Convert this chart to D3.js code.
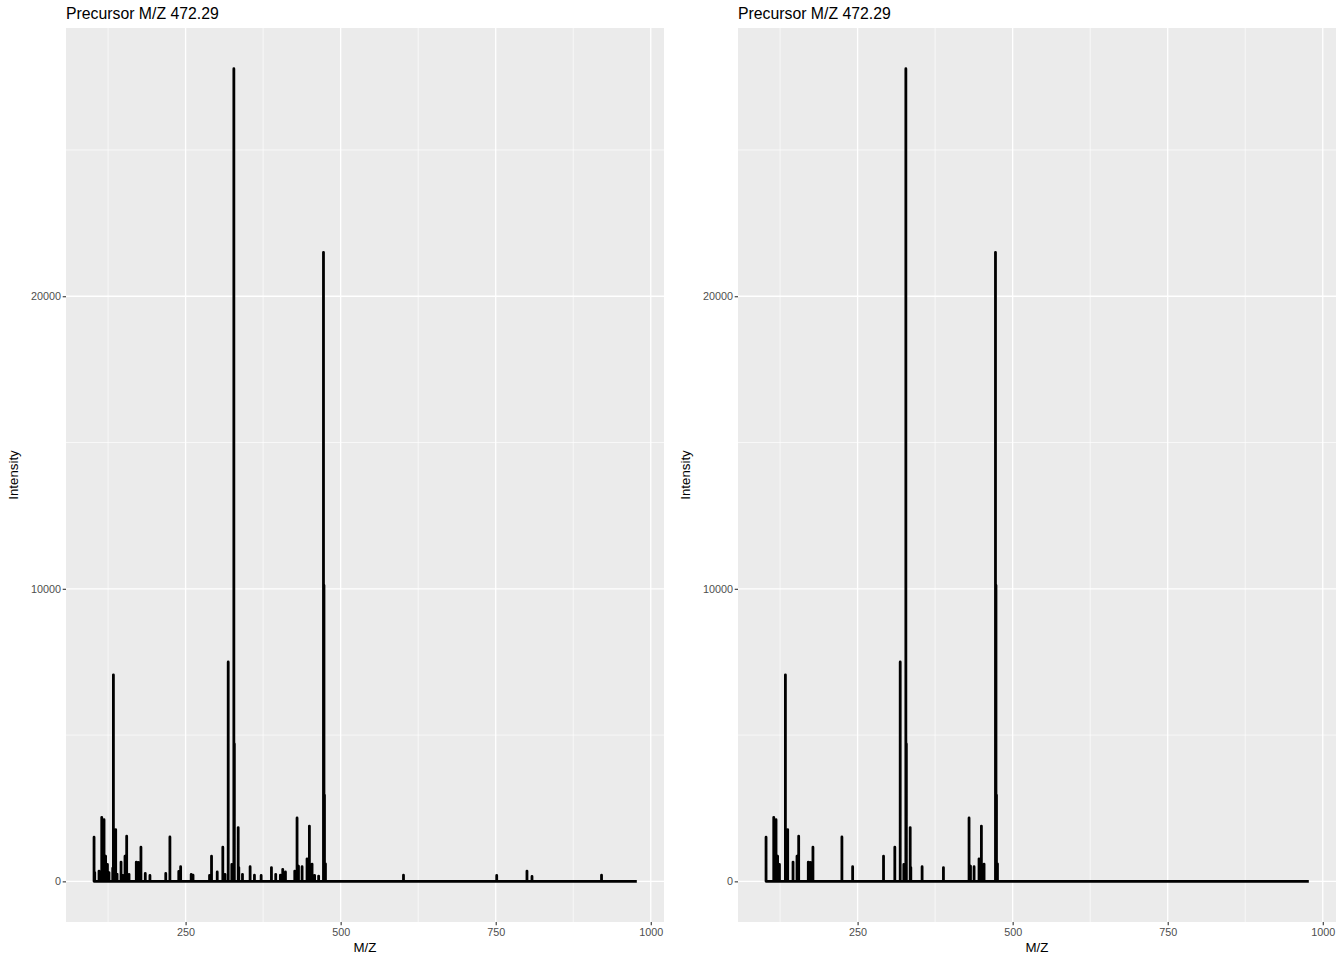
<!DOCTYPE html>
<html lang="en">

<head>
    <meta charset="UTF-8">
    <script src="https://cdnjs.cloudflare.com/ajax/libs/d3/7.6.1/d3.min.js"></script>
    <title>Precursor spectrum</title>
    <style>
        body { margin: 0; background: #fff; }
        text { font-family: "Liberation Sans", Arial, Helvetica, sans-serif; }
    </style>
</head>

<body>
    <div id="container"></div>

    <script>
        /*------------------- data --------------------*/
        const precursor = "472.29"
        const mzStart = 101
        const mzEnd = 977.5

        // all peaks (left panel)
        const rawMz = [102.4, 103.5, 110.4, 114.8, 116.5, 118.5, 121, 124, 126.5, 132.5, 133.6, 137.3, 139.5,
            145.9, 149, 152.3, 155, 158.8, 170.5, 173.8, 178, 185, 192.5, 218, 224.7, 239, 242, 259, 262,
            288.6, 291.8, 301, 310, 313.5, 318.7, 324.5, 326, 327.8, 328.6, 334.8, 335.8, 341.7, 354, 361,
            371.8, 388.4, 395.3, 402.8, 406.6, 411, 426, 429.7, 432, 437.8, 445.8, 449.6, 453.9, 458, 464.5,
            472.3, 473.1, 473.9, 475.5, 601.3, 751.6, 800.4, 808.5, 920.6]
        const rawIntensity = [1510, 300, 350, 2190, 1100, 2110, 860, 580, 300, 450, 7060, 1770, 250,
            660, 200, 860, 1545, 240, 660, 650, 1170, 270, 200, 270, 1520, 340, 500, 240, 210,
            200, 860, 320, 1170, 240, 7500, 580, 300, 27780, 4700, 1840, 470, 240, 500, 210,
            200, 470, 240, 210, 410, 320, 350, 2170, 520, 500, 770, 1890, 590, 200, 180,
            21500, 10120, 2950, 600, 210, 200, 350, 170, 210]

        // peaks kept after filtering (right panel)
        const keptMz = [102.4, 114.8, 118.5, 121, 124, 133.6, 137.3, 145.9, 152.3, 155, 170.5, 173.8, 178,
            224.7, 242, 291.8, 310, 318.7, 324.5, 327.8, 328.6, 334.8, 335.8, 354, 388.4, 429.7, 432, 437.8,
            445.8, 449.6, 453.9, 472.3, 473.1, 473.9, 475.5]
        const keptIntensity = [1510, 2190, 2110, 860, 580, 7060, 1770, 660, 860, 1545, 660, 650, 1170,
            1520, 500, 860, 1170, 7500, 580, 27780, 4700, 1840, 470, 500, 470, 2170, 520, 500,
            770, 1890, 590, 21500, 10120, 2950, 600]

        const xTicks = [250, 500, 750, 1000]
        const xMinor = [125, 375, 625, 875]
        const yTicks = [0, 10000, 20000]
        const yMinor = [5000, 15000, 25000]

        /*------------------- layout --------------------*/
        const width = 1344, height = 960
        const panel = { top: 28, height: 894, width: 598 }
        const panelLefts = [66, 738]

        const svg = d3.select("#container").append("svg")
            .attr("width", width)
            .attr("height", height)

        // spectrum as a line: baseline with a spike for every peak
        function spectrum(mz, intensity) {
            const pts = [[mzStart, 0]]
            mz.forEach((m, i) => {
                pts.push([m, 0], [m, intensity[i]], [m, 0])
            })
            pts.push([mzEnd, 0])
            return pts
        }

        // ggplot style 5% expansion
        function expand(lo, hi) {
            const pad = (hi - lo) * 0.05
            return [lo - pad, hi + pad]
        }

        const yMax = d3.max(rawIntensity)

        function drawPanel(left, mz, intensity) {
            const g = svg.append("g").attr("transform", `translate(${left},${panel.top})`)

            const x = d3.scaleLinear()
                .domain(expand(mzStart, mzEnd))
                .range([0, panel.width])
            const y = d3.scaleLinear()
                .domain(expand(0, yMax))
                .range([panel.height, 0])

            // background
            g.append("rect")
                .attr("width", panel.width)
                .attr("height", panel.height)
                .attr("fill", "#EBEBEB")

            // minor grid
            g.selectAll(".xminor").data(xMinor).enter().append("line")
                .attr("x1", d => x(d)).attr("x2", d => x(d))
                .attr("y1", 0).attr("y2", panel.height)
                .attr("stroke", "#fff").attr("stroke-width", 0.65)
            g.selectAll(".yminor").data(yMinor).enter().append("line")
                .attr("y1", d => y(d)).attr("y2", d => y(d))
                .attr("x1", 0).attr("x2", panel.width)
                .attr("stroke", "#fff").attr("stroke-width", 0.65)

            // major grid
            g.selectAll(".xmajor").data(xTicks).enter().append("line")
                .attr("x1", d => x(d)).attr("x2", d => x(d))
                .attr("y1", 0).attr("y2", panel.height)
                .attr("stroke", "#fff").attr("stroke-width", 1.3)
            g.selectAll(".ymajor").data(yTicks).enter().append("line")
                .attr("y1", d => y(d)).attr("y2", d => y(d))
                .attr("x1", 0).attr("x2", panel.width)
                .attr("stroke", "#fff").attr("stroke-width", 1.3)

            // spectrum line
            const line = d3.line()
                .x(d => x(d[0]))
                .y(d => y(d[1]))
            g.append("path")
                .datum(spectrum(mz, intensity))
                .attr("d", line)
                .attr("fill", "none")
                .attr("stroke", "#000")
                .attr("stroke-width", 2.8)
                .attr("stroke-linejoin", "round")

            // axes
            const xAxis = g.append("g")
                .attr("transform", `translate(0,${panel.height})`)
                .call(d3.axisBottom(x).tickValues(xTicks).tickSize(3.3).tickPadding(3).tickFormat(d3.format("d")))
            const yAxis = g.append("g")
                .call(d3.axisLeft(y).tickValues(yTicks).tickSize(3.3).tickPadding(1.8).tickFormat(d3.format("d")))

            ;[xAxis, yAxis].forEach(a => {
                a.select(".domain").remove()
                a.selectAll(".tick line").attr("stroke", "#333333").attr("stroke-width", 1.1)
                a.selectAll(".tick text")
                    .attr("fill", null)
                    .style("fill", "#4D4D4D")
                    .style("font-size", "10.8px")
                    .style("font-family", '"Liberation Sans", Arial, sans-serif')
            })

            // titles
            g.append("text")
                .attr("x", 0)
                .attr("y", -9)
                .style("font-size", "15.8px")
                .attr("fill", "#000")
                .text("Precursor M/Z " + precursor)

            g.append("text")
                .attr("x", panel.width / 2)
                .attr("y", panel.height + 30)
                .attr("text-anchor", "middle")
                .style("font-size", "13.3px")
                .text("M/Z")

            g.append("text")
                .attr("transform", `translate(${-48},${panel.height / 2}) rotate(-90)`)
                .attr("text-anchor", "middle")
                .style("font-size", "13.3px")
                .text("Intensity")
        }

        drawPanel(panelLefts[0], rawMz, rawIntensity)
        drawPanel(panelLefts[1], keptMz, keptIntensity)
    </script>
</body>

</html>
